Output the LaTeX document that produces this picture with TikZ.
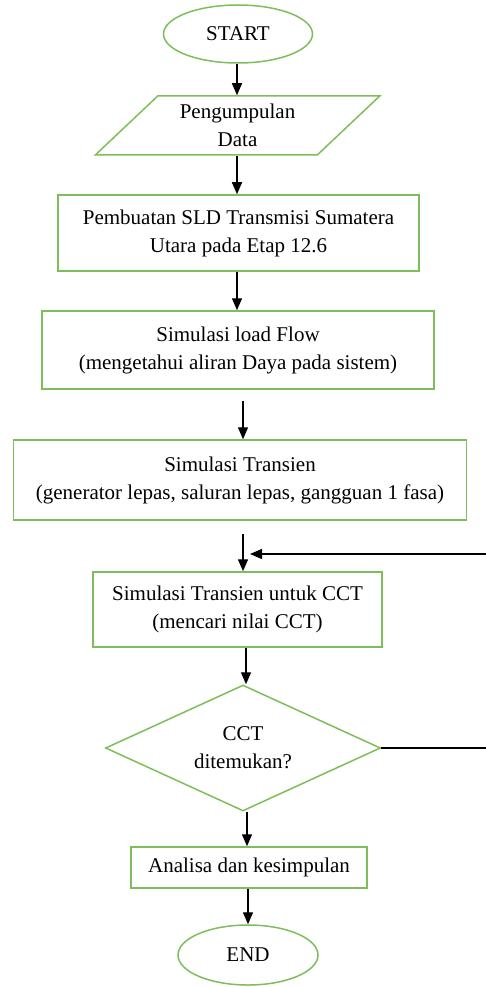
\documentclass[tikz,border=0pt]{standalone}
\usepackage{fontspec}
\setmainfont{Liberation Serif}
\usetikzlibrary{shapes.geometric,arrows.meta}
\definecolor{boxgreen}{RGB}{125,190,90}

\begin{document}
\begin{tikzpicture}[x=1pt,y=-1pt,
    font=\fontsize{21}{28}\selectfont,
    box/.style={draw=boxgreen,line width=1.5pt,align=center,inner sep=2pt},
    term/.style={box,ellipse},
    proc/.style={box,rectangle},
    io/.style={box,trapezium,trapezium left angle=45,trapezium right angle=135,trapezium stretches=true},
    cek/.style={box,diamond,aspect=2},
    arr/.style={line width=1.4pt,-{Triangle[length=12pt,width=10pt]}}]
    \useasboundingbox (0,0) rectangle (486,987);

                        \node (start) at (238,34) [term,minimum width=149,minimum height=58] {START};
                        \node (data) at (237.5,125.5) [io,minimum width=285,minimum height=59] {Pengumpulan\\Data};
                        \node (sld) at (238.5,233) [proc,minimum width=361,minimum height=76] {Pembuatan SLD Transmisi Sumatera\\Utara pada Etap 12.6};
                        \node (flow) at (238,350) [proc,minimum width=392,minimum height=78] {Simulasi load Flow\\(mengetahui aliran Daya pada sistem)};
                        \node (trans) at (240,480) [proc,minimum width=453,minimum height=80] {Simulasi Transien\\(generator lepas, saluran lepas, gangguan 1 fasa)};
                        \node (cct) at (237.5,609.5) [proc,minimum width=289,minimum height=75] {Simulasi Transien untuk CCT\\(mencari nilai CCT)};
                        \node (found) at (243,748) [cek,minimum width=275,minimum height=126] {CCT\\ditemukan?};
                        \node (ana) at (249,867.5) [proc,minimum width=236,minimum height=41] {Analisa dan kesimpulan};
                        \node (end) at (248,955) [term,minimum width=140,minimum height=60] {END};
                        \coordinate (back) at (250,554);

                    \draw[arr] (start.south -| 237,0) -- (data.north -| 237,0);
                    \draw[arr] (data.south -| 237,0) -- (sld.north -| 237,0);
                    \draw[arr] (sld.south -| 237,0) -- (flow.north -| 237,0);
                    \draw[arr] ([yshift=-11pt]flow.south -| found) -- (trans.north -| found);
                    \draw[arr] ([yshift=-13pt]trans.south -| found) -- (cct.north -| found);
                    \draw[arr] (cct.south -| 246,0) -- (found.north -| 246,0);
                    \draw[arr] (found.south -| 247,0) -- (ana.north -| 247,0);
                    \draw[arr] (ana.south -| 248,0) -- (end.north);
                    \draw[arr] (found.east) -- ++(115,0) |- (back);
                \end{tikzpicture}
\end{document}
